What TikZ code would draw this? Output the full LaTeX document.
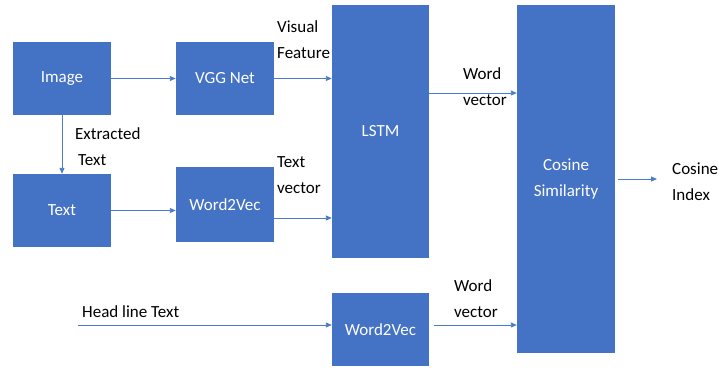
\documentclass[tikz,border=0pt]{standalone}
\usepackage{fontspec}
\setmainfont{Carlito}
\usetikzlibrary{arrows.meta}
\definecolor{boxblue}{HTML}{4472C4}
\definecolor{linkblue}{HTML}{4A7CCB}
\begin{document}
\begin{tikzpicture}[x=1pt,y=-1pt,
  font=\fontsize{17}{26}\selectfont,
  blk/.style={fill=boxblue,draw=none,text=white,align=center,inner sep=0pt},
  lbl/.style={text=black,align=left,inner sep=0pt,anchor=west},
  link/.style={draw=linkblue,line width=0.9pt,-{Triangle[length=6pt,width=5pt]}}]
\useasboundingbox (0,0) rectangle (719,370);
% boxes
\node[blk,minimum width=98pt,minimum height=73pt] (img) at (62,78.5) {Image};
\node[blk,minimum width=98pt,minimum height=73pt] (vgg) at (225,78.5) {VGG Net};
\node[blk,minimum width=97pt,minimum height=253pt] (lstm) at (380.5,131.5) {LSTM};
\node[blk,minimum width=98pt,minimum height=348pt] (cos) at (566,179) {Cosine\\Similarity};
\node[blk,minimum width=98pt,minimum height=73pt] (txt) at (62,210.5) {Text};
\node[blk,minimum width=98pt,minimum height=75pt] (w2va) at (225,204.5) {Word2Vec};
\node[blk,minimum width=97pt,minimum height=73pt] (w2vb) at (380.5,329.5) {Word2Vec};
% labels
\node[lbl] (lvis) at (277,40) {Visual\\Feature};
\node[lbl] (lext) at (75,146.5) {Extracted\\\hspace*{3pt}Text};
\node[lbl] (ltv) at (277,175) {Text\\vector};
\node[lbl] (lwv1) at (463,86.5) {Word\\vector};
\node[lbl] (lwv2) at (454,298.5) {Word\\vector};
\node[lbl] (lhead) at (82,312) {Head line Text};
\node[lbl] (lidx) at (672,181.5) {Cosine\\Index};
% coordinates
\coordinate (c1) at (0,218);
\coordinate (c2) at (0,93);
\coordinate (hl) at (78,325);
\coordinate (c3) at (0,179);
\coordinate (idx) at (657,179);
% connectors
\draw[link] (img.east) -- (vgg.west);
\draw[link] (vgg.east) -- (vgg.east -| lstm.west);
\draw[link] (img.south) -- (txt.north);
\draw[link] (txt.east) -- (txt.east -| w2va.west);
\draw[link] (c1 -| w2va.east) -- (c1 -| lstm.west);
\draw[link] (c2 -| lstm.east) -- (c2 -| cos.west);
\draw[link] (hl) -- (hl -| w2vb.west);
\draw[link,shorten <=5pt] (hl -| w2vb.east) -- (hl -| cos.west);
\draw[link,shorten <=3pt] (c3 -| cos.east) -- (idx);
\end{tikzpicture}
\end{document}
